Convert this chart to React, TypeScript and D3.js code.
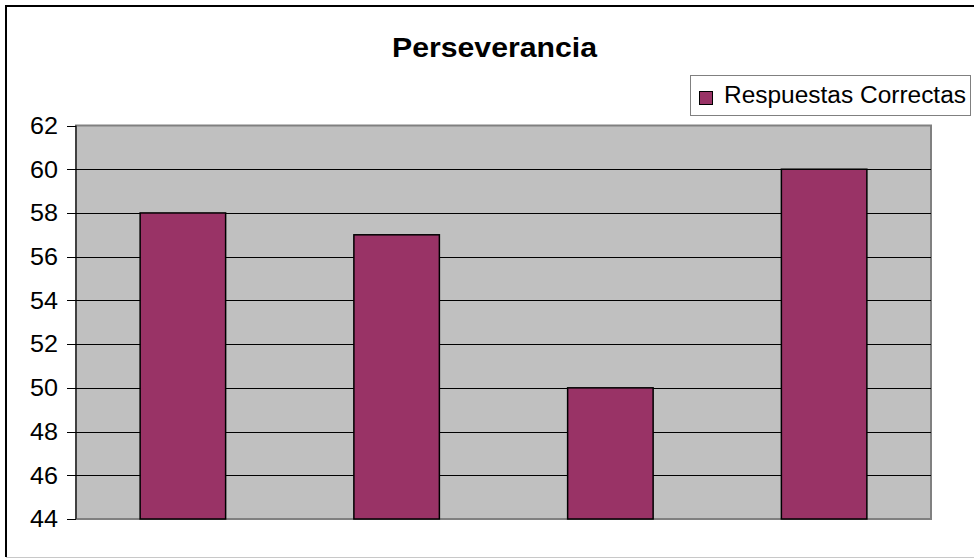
import React from "react";
import * as d3 from "d3";

const categories = ["1", "2", "3", "4"];
const seriesName = "Respuestas Correctas";
const values = [58, 57, 50, 60];
const yTicks = [44, 46, 48, 50, 52, 54, 56, 58, 60, 62];
const title = "Perseverancia";

const W = 974;
const H = 559;
const plot = { left: 76, right: 931, top: 125.5, bottom: 519 };
const font = "'Liberation Sans', Arial, sans-serif";

export default function App() {
  const x = d3
    .scaleBand<string>()
    .domain(categories)
    .range([plot.left, plot.right])
    .paddingInner(0.6)
    .paddingOuter(0.3);
  const y = d3.scaleLinear().domain([44, 62]).range([plot.bottom, plot.top]);

  return (
    <svg
      width={W}
      height={H}
      style={{ position: "absolute", left: 0, top: 0, background: "#fff" }}
    >
      {/* outer frame */}
      <line x1={6} y1={6} x2={W} y2={6} stroke="#000" strokeWidth={2} />
      <line x1={6} y1={5} x2={6} y2={557} stroke="#000" strokeWidth={2} />
      <line x1={6} y1={557.5} x2={W} y2={557.5} stroke="#c8c8c8" strokeWidth={1} />

      {/* title */}
      <text
        x={392}
        y={57}
        fontFamily={font}
        fontWeight="bold"
        fontSize={28}
        textLength={205}
        lengthAdjust="spacingAndGlyphs"
        fill="#000"
      >
        {title}
      </text>

      {/* plot background */}
      <rect
        x={plot.left}
        y={plot.top}
        width={plot.right - plot.left}
        height={plot.bottom - plot.top}
        fill="#c0c0c0"
        stroke="#808080"
        strokeWidth={2}
      />

      {/* gridlines & ticks */}
      {yTicks.map((t) => (
        <g key={t}>
          {t !== 44 && t !== 62 && (
            <line
              x1={plot.left}
              x2={plot.right}
              y1={Math.round(y(t)) + 0.5}
              y2={Math.round(y(t)) + 0.5}
              stroke="#000"
              strokeWidth={1}
            />
          )}
          <line
            x1={67}
            x2={plot.left}
            y1={Math.round(y(t)) + 0.5}
            y2={Math.round(y(t)) + 0.5}
            stroke="#000"
            strokeWidth={1}
          />
          <text
            x={30}
            y={y(t)}
            dy="0.36em"
            fontFamily={font}
            fontSize={23}
            textLength={28}
            lengthAdjust="spacingAndGlyphs"
            fill="#000"
          >
            {t}
          </text>
        </g>
      ))}
      <line x1={plot.left} y1={plot.top} x2={plot.left} y2={plot.bottom} stroke="#000" strokeWidth={1} />

      {/* bars */}
      {categories.map((c, i) => (
        <rect
          key={c}
          x={x(c)}
          y={y(values[i])}
          width={x.bandwidth()}
          height={y(44) - y(values[i])}
          fill="#993366"
          stroke="#000"
          strokeWidth={1.5}
        />
      ))}

      {/* legend */}
      <rect x={690.5} y={75.5} width={280} height={40} fill="#fff" stroke="#808080" strokeWidth={1} />
      <rect x={699.5} y={91.5} width={13} height={13} fill="#993366" stroke="#000" strokeWidth={1} />
      <text
        x={724}
        y={103}
        fontFamily={font}
        fontSize={23}
        textLength={242}
        lengthAdjust="spacingAndGlyphs"
        fill="#000"
      >
        {seriesName}
      </text>
    </svg>
  );
}
